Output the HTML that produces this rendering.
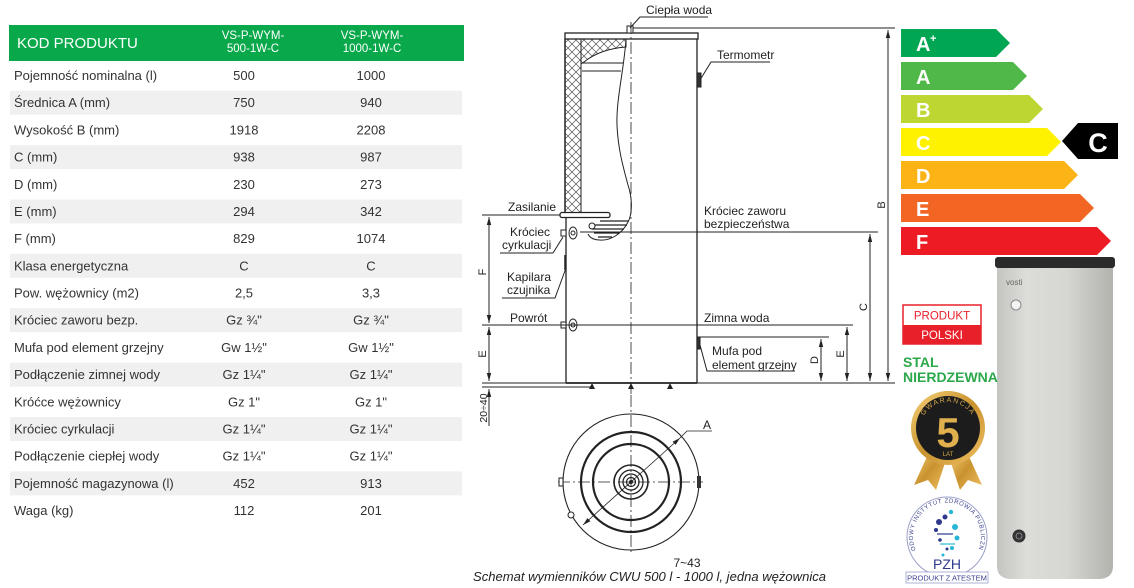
<!DOCTYPE html>
<html><head><meta charset="utf-8"><style>
html,body{margin:0;padding:0;background:#fff;}
svg{display:block;}
text{font-family:"Liberation Sans",sans-serif;}
</style></head><body>
<svg width="1134" height="588" viewBox="0 0 1134 588" xmlns="http://www.w3.org/2000/svg">
<defs>
<pattern id="hatch" width="8" height="8" patternUnits="userSpaceOnUse">
<path d="M0,0 L8,8 M8,0 L0,8" stroke="#555" stroke-width="0.7"/>
</pattern>
<marker id="ar" markerWidth="8" markerHeight="6" refX="8" refY="3" orient="auto-start-reverse" markerUnits="userSpaceOnUse">
<path d="M0,0.8 L8,3 L0,5.2 Z" fill="#222"/>
</marker>
<linearGradient id="tank" x1="0" x2="1" y1="0" y2="0">
<stop offset="0" stop-color="#c4c4c0"/>
<stop offset="0.25" stop-color="#dcdcd8"/>
<stop offset="0.6" stop-color="#d6d6d2"/>
<stop offset="1" stop-color="#b3b3ae"/>
</linearGradient>
<linearGradient id="gold" x1="0" x2="1" y1="0" y2="1">
<stop offset="0" stop-color="#f6d27a"/>
<stop offset="0.5" stop-color="#c9922e"/>
<stop offset="1" stop-color="#f0c063"/>
</linearGradient>
<path id="arcG" d="M920,430 A28,28 0 0 1 976,430"/>
<path id="arcP" d="M915,548 A34,34 0 1 1 979,548"/>
</defs>

<!-- TABLE -->
<rect x="9" y="25" width="455" height="36" fill="#08a84b"/>
<text x="17" y="48" font-size="15" fill="#fff">KOD PRODUKTU</text>
<g font-size="11.5" fill="#fff" text-anchor="middle">
<text x="253" y="39">VS-P-WYM-</text><text x="253" y="52">500-1W-C</text>
<text x="372" y="39">VS-P-WYM-</text><text x="372" y="52">1000-1W-C</text>
</g>
<g fill="#f0f0f0">
<rect x="10" y="90.7" width="452" height="24"/>
<rect x="10" y="145.1" width="452" height="24"/>
<rect x="10" y="199.5" width="452" height="24"/>
<rect x="10" y="253.8" width="452" height="24"/>
<rect x="10" y="308.2" width="452" height="24"/>
<rect x="10" y="362.6" width="452" height="24"/>
<rect x="10" y="417" width="452" height="24"/>
<rect x="10" y="471.4" width="452" height="24"/>
</g>
<g font-size="13" fill="#333">
<text x="14" y="80">Pojemność nominalna (l)</text>
<text x="14" y="107.2">Średnica A (mm)</text>
<text x="14" y="134.4">Wysokość B (mm)</text>
<text x="14" y="161.6">C (mm)</text>
<text x="14" y="188.8">D (mm)</text>
<text x="14" y="216">E (mm)</text>
<text x="14" y="243.1">F (mm)</text>
<text x="14" y="270.3">Klasa energetyczna</text>
<text x="14" y="297.5">Pow. wężownicy (m2)</text>
<text x="14" y="324.7">Króciec zaworu bezp.</text>
<text x="14" y="351.9">Mufa pod element grzejny</text>
<text x="14" y="379.1">Podłączenie zimnej wody</text>
<text x="14" y="406.3">Króćce wężownicy</text>
<text x="14" y="433.5">Króciec cyrkulacji</text>
<text x="14" y="460.7">Podłączenie ciepłej wody</text>
<text x="14" y="487.9">Pojemność magazynowa (l)</text>
<text x="14" y="515">Waga (kg)</text>
</g>
<g font-size="13" fill="#333" text-anchor="middle">
<text x="244" y="80">500</text><text x="371" y="80">1000</text>
<text x="244" y="107.2">750</text><text x="371" y="107.2">940</text>
<text x="244" y="134.4">1918</text><text x="371" y="134.4">2208</text>
<text x="244" y="161.6">938</text><text x="371" y="161.6">987</text>
<text x="244" y="188.8">230</text><text x="371" y="188.8">273</text>
<text x="244" y="216">294</text><text x="371" y="216">342</text>
<text x="244" y="243.1">829</text><text x="371" y="243.1">1074</text>
<text x="244" y="270.3">C</text><text x="371" y="270.3">C</text>
<text x="244" y="297.5">2,5</text><text x="371" y="297.5">3,3</text>
<text x="244" y="324.7">Gz ¾"</text><text x="371" y="324.7">Gz ¾"</text>
<text x="244" y="351.9">Gw 1½"</text><text x="371" y="351.9">Gw 1½"</text>
<text x="244" y="379.1">Gz 1¼"</text><text x="371" y="379.1">Gz 1¼"</text>
<text x="244" y="406.3">Gz 1"</text><text x="371" y="406.3">Gz 1"</text>
<text x="244" y="433.5">Gz 1¼"</text><text x="371" y="433.5">Gz  1¼"</text>
<text x="244" y="460.7">Gz 1¼"</text><text x="371" y="460.7">Gz  1¼"</text>
<text x="244" y="487.9">452</text><text x="371" y="487.9">913</text>
<text x="244" y="515">112</text><text x="371" y="515">201</text>
</g>

<!-- TECH DRAWING -->
<g stroke="#222" stroke-width="1" fill="none">
<!-- insulation hatch -->
<rect x="565" y="39" width="16" height="174" fill="url(#hatch)"/>
<path d="M581,39 L626,39 L626,47 Q600,49 584,62 L581,64 Z" fill="url(#hatch)"/>
<!-- top plate -->
<rect x="565" y="33" width="133" height="6" fill="#fff" stroke-width="1.3"/>
<rect x="627" y="26" width="6" height="7" fill="#fff"/>
<!-- walls -->
<line x1="565" y1="39" x2="565" y2="215" stroke-width="1.5"/>
<line x1="581" y1="39" x2="581" y2="215"/>
<line x1="566" y1="215" x2="566" y2="383" stroke-width="1.3"/>
<line x1="697" y1="39" x2="697" y2="383" stroke-width="1.3"/>
<line x1="566" y1="383" x2="697" y2="383" stroke-width="1.8"/>
<!-- dome lines -->
<line x1="583" y1="63" x2="623" y2="63"/>
<line x1="582" y1="71" x2="621" y2="71"/>
<!-- wavy cutaway -->
<path d="M626,39 C624,70 616,100 617,125 C618,150 624,170 628,185 C633,200 632,215 628,222 C622,234 610,241 600,240 C594,240 590,238 588,234"/>
<!-- coil -->
<g stroke-width="1.3">
<line x1="600" y1="221" x2="629" y2="221"/>
<line x1="592" y1="225" x2="627" y2="225"/>
<line x1="592" y1="229" x2="624" y2="229"/>
<line x1="594" y1="233" x2="619" y2="233"/>
<line x1="598" y1="237" x2="612" y2="237"/>
</g>
<circle cx="592" cy="226" r="3" fill="#fff"/>
<!-- Zasilanie pipe -->
<rect x="560" y="212.5" width="50" height="5" rx="2" fill="#fff" stroke-width="1.3"/>
<!-- centerline -->
<line x1="631" y1="22" x2="631" y2="395" stroke-width="0.8" stroke-dasharray="12,3,2,3"/>
<!-- fittings -->
<rect x="561" y="230" width="5" height="6" fill="#fff"/>
<ellipse cx="573" cy="233" rx="4" ry="6" fill="#fff"/>
<circle cx="573" cy="233" r="2"/>
<rect x="561" y="322" width="5" height="6" fill="#fff"/>
<ellipse cx="573" cy="325" rx="4" ry="6" fill="#fff"/>
<circle cx="573" cy="325" r="2"/>
<rect x="697" y="73" width="4" height="14" fill="#333"/>
<rect x="697" y="337" width="3" height="12" fill="#333"/>
<line x1="565" y1="255" x2="565" y2="270" stroke-width="1.5"/>
<!-- leaders -->
<polyline points="630,28 640,17 708,17"/>
<polyline points="700,80 711,62 770,62"/>
<polyline points="553,253 563,237"/>
<line x1="500" y1="253" x2="553" y2="253"/>
<polyline points="502,298 555,298 566,268"/>
<polyline points="700,345 707,371 795,371"/>
<!-- extension lines -->
<line x1="633" y1="28" x2="895" y2="28"/>
<line x1="482" y1="215" x2="560" y2="215"/>
<line x1="580" y1="232" x2="878" y2="232"/>
<line x1="482" y1="325" x2="853" y2="325"/>
<line x1="700" y1="337" x2="829" y2="337"/>
<line x1="482" y1="383" x2="895" y2="383"/>
<line x1="482" y1="387" x2="592" y2="387"/>
<!-- dimension lines -->
<line x1="888" y1="30" x2="888" y2="381" marker-start="url(#ar)" marker-end="url(#ar)"/>
<line x1="870" y1="234" x2="870" y2="381" marker-start="url(#ar)" marker-end="url(#ar)"/>
<line x1="847" y1="327" x2="847" y2="381" marker-start="url(#ar)" marker-end="url(#ar)"/>
<line x1="821" y1="339" x2="821" y2="381" marker-start="url(#ar)" marker-end="url(#ar)"/>
<line x1="489" y1="217" x2="489" y2="323" marker-start="url(#ar)" marker-end="url(#ar)"/>
<line x1="489" y1="327" x2="489" y2="381" marker-start="url(#ar)" marker-end="url(#ar)"/>
<line x1="489" y1="389" x2="489" y2="426" marker-start="url(#ar)"/>
</g>
<!-- feet -->
<g fill="#222">
<path d="M589,389 L592,383 L595,389 Z"/>
<path d="M628,389 L631,383 L634,389 Z"/>
<path d="M667,389 L670,383 L673,389 Z"/>
</g>
<!-- drawing labels -->
<g font-size="12" fill="#222">
<text x="646" y="14">Ciepła woda</text>
<text x="717" y="59">Termometr</text>
<text x="508" y="211">Zasilanie</text>
<text x="510" y="236">Króciec</text>
<text x="502" y="249">cyrkulacji</text>
<text x="507" y="281">Kapilara</text>
<text x="507" y="294">czujnika</text>
<text x="510" y="322">Powrót</text>
<text x="704" y="215">Króciec zaworu</text>
<text x="704" y="228">bezpieczeństwa</text>
<text x="704" y="322">Zimna woda</text>
<text x="712" y="355">Mufa pod</text>
<text x="712" y="369">element grzejny</text>
</g>
<g font-size="11" fill="#222" text-anchor="middle">
<text transform="translate(885,205) rotate(-90)">B</text>
<text transform="translate(867,307) rotate(-90)">C</text>
<text transform="translate(844,354) rotate(-90)">E</text>
<text transform="translate(818,360) rotate(-90)">D</text>
<text transform="translate(486,272) rotate(-90)">F</text>
<text transform="translate(486,354) rotate(-90)">E</text>
<text transform="translate(487,408) rotate(-90)" font-size="10.5">20÷40</text>
</g>

<!-- plan view -->
<g stroke="#222" fill="none">
<circle cx="631" cy="482" r="68" stroke-width="1.1"/>
<circle cx="631" cy="482" r="50" stroke-width="2.2"/>
<circle cx="631" cy="482" r="38" stroke-width="2.2"/>
<circle cx="631" cy="482" r="17" stroke-width="1.6"/>
<circle cx="631" cy="482" r="12" stroke-width="1.3"/>
<circle cx="631" cy="482" r="8" stroke-width="1.3"/>
<circle cx="631" cy="482" r="4.5" stroke-width="1.2"/>
<line x1="558" y1="482" x2="703" y2="482" stroke-width="0.8" stroke-dasharray="12,3,2,3"/>
<line x1="631" y1="395" x2="631" y2="553" stroke-width="0.8" stroke-dasharray="12,3,2,3"/>
<line x1="583" y1="525" x2="680" y2="438" stroke-width="0.8" marker-start="url(#ar)" marker-end="url(#ar)"/>
<polyline points="680,438 687,431 712,431" stroke-width="0.8"/>
<rect x="559" y="478" width="4" height="8" fill="#fff"/>
<circle cx="571" cy="515" r="3" fill="#fff"/>
</g>
<circle cx="631" cy="482" r="2" fill="#222"/>
<rect x="697" y="476" width="4" height="12" fill="#333"/>
<text x="703" y="429" font-size="12" fill="#222">A</text>
<text x="687" y="567" font-size="12" fill="#222" text-anchor="middle">7~43</text>
<text x="473" y="581" font-size="12.5" font-style="italic" fill="#222" textLength="353" lengthAdjust="spacingAndGlyphs">Schemat wymienników CWU 500 l - 1000 l,  jedna wężownica</text>

<!-- ENERGY LABELS -->
<polygon points="901,29 996,29 1010,43 996,57 901,57" fill="#00a651"/>
<polygon points="901,62 1013,62 1027,76 1013,90 901,90" fill="#50b848"/>
<polygon points="901,95 1029,95 1043,109 1029,123 901,123" fill="#bdd631"/>
<polygon points="901,128 1047,128 1061,142 1047,156 901,156" fill="#fff200"/>
<polygon points="901,161 1064,161 1078,175 1064,189 901,189" fill="#fbb315"/>
<polygon points="901,194 1080,194 1094,208 1080,222 901,222" fill="#f26522"/>
<polygon points="901,227 1097,227 1111,241 1097,255 901,255" fill="#ed1c24"/>
<g font-size="20" font-weight="bold" fill="#fff">
<text x="916" y="51">A</text>
<text x="930" y="42" font-size="11">+</text>
<text x="916" y="84">A</text>
<text x="916" y="117">B</text>
<text x="916" y="150">C</text>
<text x="916" y="183">D</text>
<text x="916" y="216">E</text>
<text x="916" y="249">F</text>
</g>
<polygon points="1062,141 1078,123 1118,123 1118,159 1078,159" fill="#000"/>
<text x="1098" y="152" font-size="27" font-weight="bold" fill="#fff" text-anchor="middle">C</text>

<!-- TANK -->
<path d="M997,266 L1113,266 L1113,566 Q1113,578 1100,579 L1010,579 Q997,578 997,566 Z" fill="url(#tank)"/>
<rect x="995" y="257" width="120" height="11" rx="3" fill="#2b2b2b"/>
<text x="1006" y="285" font-size="8" fill="#666">vosti</text>
<circle cx="1016" cy="305" r="5" fill="#f4f4f4" stroke="#888" stroke-width="1"/>
<circle cx="1019" cy="536" r="6.5" fill="#333"/>
<circle cx="1019" cy="536" r="3" fill="none" stroke="#999" stroke-width="0.8"/>

<!-- PRODUKT POLSKI -->
<rect x="903" y="305" width="78" height="39" fill="#fff" stroke="#e8202a" stroke-width="1.5"/>
<rect x="903" y="325" width="78" height="19" fill="#e8202a"/>
<text x="942" y="319.5" font-size="11.5" fill="#e8202a" text-anchor="middle">PRODUKT</text>
<text x="942" y="339" font-size="11.5" fill="#fff" text-anchor="middle">POLSKI</text>
<text x="903" y="367" font-size="14" font-weight="bold" fill="#2ba84a">STAL</text>
<text x="903" y="382" font-size="14" font-weight="bold" fill="#2ba84a">NIERDZEWNA</text>

<!-- MEDAL -->
<polygon points="930,450 946,460 936,490 928,480 914,485" fill="url(#gold)"/>
<polygon points="966,450 950,460 960,490 968,480 982,485" fill="url(#gold)"/>
<circle cx="948" cy="428" r="37" fill="url(#gold)"/>
<circle cx="948" cy="428" r="32" fill="#1c1c1c"/>
<text font-size="7" fill="#d9a94a" letter-spacing="1.5"><textPath href="#arcG" startOffset="50%" text-anchor="middle">GWARANCJA</textPath></text>
<text x="948" y="447" font-size="42" font-weight="bold" font-family="Liberation Serif, serif" fill="#e0b04f" text-anchor="middle">5</text>
<text x="948" y="456" font-size="6" fill="#d9a94a" text-anchor="middle">LAT</text>

<!-- PZH -->
<circle cx="947" cy="537" r="40" fill="#fff" stroke="#9aa0c8" stroke-width="1"/>
<text font-size="6" fill="#3b4390" letter-spacing="0.6"><textPath href="#arcP" startOffset="50%" text-anchor="middle">NARODOWY INSTYTUT ZDROWIA PUBLICZNEGO</textPath></text>
<g fill="#2d3a8c">
<circle cx="939" cy="522" r="3"/><circle cx="945" cy="517" r="2.5"/><circle cx="936" cy="530" r="2"/><circle cx="940" cy="540" r="1.8"/><circle cx="947" cy="549" r="1.5"/>
</g>
<g fill="#29b6d6">
<circle cx="951" cy="512" r="2.2"/><circle cx="955" cy="527" r="3"/><circle cx="957" cy="538" r="2.5"/><circle cx="952" cy="548" r="2"/><circle cx="943" cy="555" r="1.5"/>
</g>
<line x1="937" y1="534" x2="953" y2="534" stroke="#2d3a8c" stroke-width="1.2"/>
<line x1="940" y1="544" x2="955" y2="544" stroke="#29b6d6" stroke-width="1.2"/>
<text x="947" y="569" font-size="14" font-family="Liberation Serif, serif" fill="#2d3a8c" text-anchor="middle">PZH</text>
<rect x="906" y="572" width="82" height="11" fill="#fff" stroke="#9aa0c8" stroke-width="0.8"/>
<text x="947" y="580.5" font-size="7.5" fill="#3b4390" text-anchor="middle">PRODUKT Z ATESTEM</text>
</svg>
</body></html>
